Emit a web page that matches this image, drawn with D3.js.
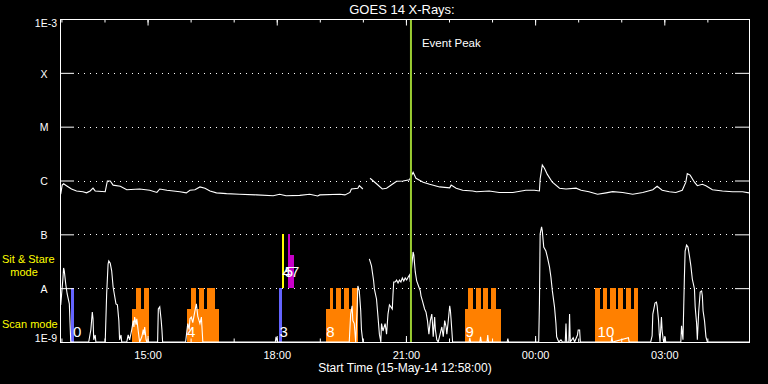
<!DOCTYPE html>
<html><head><meta charset="utf-8">
<script src="https://cdn.jsdelivr.net/npm/d3@7"></script>
<style>
html,body{margin:0;padding:0;background:#000;}
svg{display:block;}
text{font-family:"Liberation Sans",Arial,sans-serif;}
</style></head><body>
<svg id="chart" width="768" height="384"></svg>
<script>
// ---------- data ----------
const startTime = new Date(2014, 4, 15, 12, 58, 0);   // 15-May-14 12:58:00
const durationMin = 960;                                // 16 hours shown
const titleText = "GOES 14 X-Rays:";
const xLabelText = "Start Time (15-May-14 12:58:00)";

// y-axis levels and labels
const yLevels = [1e-9, 1e-8, 1e-7, 1e-6, 1e-5, 1e-4, 1e-3];
const yLabels = ["1E-9", "A", "B", "C", "M", "X", "1E-3"];
const gridLevels = [1e-8, 1e-7, 1e-6, 1e-5, 1e-4];

// long channel (1-8 A): [minutes after start, flux W/m^2]
const longChannel = [
 [1,5.6e-7],[3,8.2e-7],[5,8.7e-7],[9,8.0e-7],[16,6.95e-7],[23,6.4e-7],[32,6.2e-7],[37,5.9e-7],
 [42,6.4e-7],[46,7.2e-7],[49,6.4e-7],[63,6.2e-7],[66,9.8e-7],[70,9.8e-7],[74,8.2e-7],[84,7.8e-7],
 [93,6.75e-7],[111,6.95e-7],[125,6.6e-7],[135,6.0e-7],[139,6.95e-7],[149,6.6e-7],[167,6.2e-7],
 [176,5.9e-7],[181,6.6e-7],[188,6.75e-7],[195,7.6e-7],[202,7.2e-7],[209,6.4e-7],[218,5.9e-7],
 [232,5.7e-7],[250,5.55e-7],[274,5.4e-7],[297,5.2e-7],[306,5.55e-7],[315,5.2e-7],[334,5.3e-7],
 [348,5.55e-7],[359,5.15e-7],[362,5.4e-7],[390,5.55e-7],[397,5.4e-7],[404,6.0e-7],[406,6.95e-7],
 [415,7.2e-7],[417,8.0e-7],[422,6.95e-7],[427,null],
 [432,1.1e-6],[441,8.7e-7],[449,6.95e-7],[455,7.2e-7],[464,8.7e-7],[469,9.7e-7],[478,9.8e-7],
 [487,1.03e-6],[492,1.42e-6],[496,1.1e-6],[506,9.3e-7],[515,8.5e-7],[529,7.6e-7],[543,7.3e-7],
 [545,8.2e-7],[552,7.2e-7],[561,6.6e-7],[575,6.4e-7],[580,6.2e-7],[598,6.4e-7],[612,6.0e-7],
 [631,6.0e-7],[649,6.6e-7],[661,6.6e-7],[668,6.4e-7],[669,1.07e-6],[672,1.94e-6],[675,1.69e-6],
 [679,1.3e-6],[686,9.3e-7],[696,7.2e-7],[705,6.95e-7],[719,7.2e-7],[726,6.6e-7],[737,6.2e-7],
 [749,5.55e-7],[761,5.9e-7],[770,6.2e-7],[784,6.0e-7],[798,5.55e-7],[812,6.0e-7],[826,6.75e-7],
 [832,7.8e-7],[839,6.6e-7],[849,6.2e-7],[858,6.0e-7],[867,6.6e-7],[872,9.3e-7],[874,1.34e-6],
 [878,1.26e-6],[884,9.3e-7],[888,8.0e-7],[895,8.5e-7],[900,8.0e-7],[909,6.75e-7],[923,6.4e-7],
 [937,6.2e-7],[951,6.2e-7],[960,5.9e-7]
];

// short channel (0.5-4 A): [minutes after start, flux W/m^2]
const shortChannel = [
 [1,4.9e-9],[4,1.48e-8],[5,2.37e-8],[6,2.09e-8],[8,1.19e-8],[10,7.8e-9],[13,5.1e-9],[14,2.2e-9],[15,1.0e-9],
 [40,1.0e-9],[43,1.7e-9],[45,3.6e-9],[46,2.7e-9],[47,1.1e-9],[49,1.35e-9],[50,1.0e-9],
 [63,1.0e-9],[65,7.8e-9],[67,2.8e-8],[68,3.2e-8],[70,2.9e-8],[72,2.1e-8],[74,1.05e-8],[78,5.1e-9],
 [80,4.9e-9],[82,2.5e-9],[83,1.1e-9],[85,1.35e-9],[86,1.0e-9],
 [93,1.0e-9],[95,1.35e-9],[97,1.1e-9],[100,1.7e-9],[102,2.5e-9],[103,1.9e-9],[104,2.9e-9],[106,2.1e-9],
 [107,2.7e-9],[109,1.6e-9],[110,1.25e-9],[111,1.0e-9],[114,1.25e-9],[116,1.7e-9],[117,1.35e-9],
 [118,1.9e-9],[120,1.1e-9],[121,1.0e-9],
 [136,1.0e-9],[137,4.1e-9],[139,4.5e-9],[141,2.5e-9],[142,1.7e-9],[143,1.0e-9],
 [175,1.0e-9],[178,2.2e-9],[180,1.7e-9],[181,2.7e-9],[183,2.9e-9],[185,2.3e-9],[188,3.8e-9],
 [190,5.1e-9],[192,3.0e-9],[195,2.2e-9],[197,2.9e-9],[199,1.0e-9],
 [300,1.0e-9],[301,1.25e-9],[303,1.0e-9],
 [403,1.0e-9],[405,3.3e-9],[407,4.7e-9],[408,2.5e-9],[410,2.2e-9],[412,1.0e-9],[414,4.1e-9],
 [415,1.1e-8],[417,8.9e-9],[419,3.8e-9],[420,1.7e-9],[422,1.0e-9],[427,null],
 [431,3.5e-8],[434,2.6e-8],[437,1.36e-8],[438,9.7e-9],[441,6.3e-9],[443,3.0e-9],[445,1.4e-9],
 [447,1.0e-9],[448,2.2e-9],[450,1.6e-9],[453,2.2e-9],[455,1.4e-9],[457,3.3e-9],[459,4.9e-9],
 [461,4.5e-9],[463,4.1e-9],[464,7.8e-9],[465,1.3e-8],[467,1.3e-8],[469,1.42e-8],[471,1.25e-8],
 [473,1.42e-8],[475,1.3e-8],[477,1.55e-8],[479,1.36e-8],[481,1.55e-8],[483,1.42e-8],[485,1.6e-8],
 [487,1.76e-8],[488,1.3e-8],[490,2.5e-8],[492,4.7e-8],[493,4.1e-8],[495,2.0e-8],[497,1.36e-8],
 [500,1.05e-8],[502,8.9e-9],[503,7.2e-9],[505,5.8e-9],[508,4.1e-9],[510,3.6e-9],[512,2.5e-9],
 [514,1.4e-9],[516,2.5e-9],[518,3.3e-9],[519,2.2e-9],[520,1.25e-9],[522,2.9e-9],[523,1.7e-9],
 [525,1.1e-9],[527,1.0e-9],[532,1.9e-9],[534,1.25e-9],[536,2.5e-9],[538,1.9e-9],[539,1.4e-9],
 [541,2.5e-9],[543,4.7e-9],[544,3.8e-9],[545,2.5e-9],[546,1.6e-9],[547,1.0e-9],
 [570,1.0e-9],[571,1.2e-9],[572,1.0e-9],[585,1.0e-9],[586,1.25e-9],[587,1.0e-9],
 [595,1.0e-9],[596,1.35e-9],[597,1.0e-9],[623,1.0e-9],[624,1.15e-9],[625,1.0e-9],
 [667,1.0e-9],[668,5.1e-9],[669,1.01e-7],[671,1.37e-7],[672,1.16e-7],[674,5.8e-8],[677,4.9e-8],
 [679,3.8e-8],[682,2.48e-8],[684,1.6e-8],[686,8.9e-9],[689,4.5e-9],[691,2.2e-9],[692,1.25e-9],
 [695,1.0e-9],[698,1.1e-9],[700,1.0e-9],[704,1.0e-9],[705,2.2e-9],[706,1.0e-9],[709,1.0e-9],
 [710,3.3e-9],[711,1.0e-9],[715,1.2e-9],[717,1.0e-9],[721,1.35e-9],[722,1.67e-9],[724,1.67e-9],
 [725,1.0e-9],[768,1.0e-9],[769,1.25e-9],[770,1.0e-9],[792,1.2e-9],[793,1.0e-9],
 [823,1.0e-9],[825,1.3e-9],[826,3.3e-9],[828,4.5e-9],[829,5.3e-9],[831,5.5e-9],[832,4.7e-9],
 [834,2.5e-9],[835,1.4e-9],[836,1.0e-9],[838,2.9e-9],[839,1.6e-9],[841,1.0e-9],[843,1.25e-9],
 [844,1.0e-9],[865,1.0e-9],[866,2.0e-9],[868,1.1e-9],[870,1.6e-8],[871,4.9e-8],[873,6.3e-8],
 [875,5.8e-8],[877,3.97e-8],[879,2.6e-8],[881,1.48e-8],[884,9.7e-9],[885,4.5e-9],[887,2.2e-9],
 [888,1.1e-9],[890,3.8e-9],[892,8.5e-9],[894,8.9e-9],[895,7.2e-9],[896,3.8e-9],[898,2.5e-9],
 [900,1.25e-9],[902,1.0e-9],[960,1.0e-9]
];

// scan-mode observation blocks (minutes after start) and their raster "teeth"
const scanStarts = [100, 177, 370, 564, 746];
const scanEnds   = [124, 221, 415, 614, 806];
const scanTeeth = [
 [[106,113],[117,124]],
 [[182,189],[193,200],[205,216]],
 [[376,381],[385,392],[396,403],[407,415]],
 [[569,576],[580,586],[590,597],[601,608]],
 [[746,753],[757,762],[767,774],[778,785],[789,796],[800,806]]
];
const scanBaseFlux = 4.1e-9;
const scanTopFlux = 1e-8;

// sit & stare / other observation bars: [start, end, low flux, high flux, kind]
const obsBars = [
 [15, 19, 1e-9, 1e-8, "blue"],
 [305, 310, 1e-9, 1e-8, "blue"],
 [309, 312, 1e-8, 1e-7, "yellow"],
 [317, 326, 1e-8, 4.1e-8, "magenta"],
 [317, 321, 4.1e-8, 1e-7, "magenta"]
];

// observation numbers: [text, minutes, flux level of baseline]
const obsLabels = [
 ["0", 18, 1.22e-9], ["4", 177, 1.22e-9], ["3", 306, 1.22e-9], ["8", 371, 1.22e-9],
 ["9", 565, 1.22e-9], ["10", 749, 1.22e-9],
 ["4", 310, 1.64e-8], ["5", 313, 1.64e-8], ["7", 322, 1.64e-8]
];

const eventPeakMin = 489;   // 21:07

// ---------- drawing ----------
const colors = {blue: "#6464ff", yellow: "#ffff00", magenta: "#c800c8", orange: "#ff8000", peak: "#9acd32"};
const tm = m => new Date(startTime.getTime() + m * 60000);

const svg = d3.select("#chart").style("color", "#fff");
svg.append("rect").attr("width", 768).attr("height", 384).attr("fill", "#000");

const x = d3.scaleTime().domain([startTime, tm(durationMin)]).range([60, 749]);
const y = d3.scaleLog().domain([1e-9, 1e-3]).range([342, 19]);

svg.append("clipPath").attr("id", "clip").append("rect")
  .attr("x", 60).attr("y", 19).attr("width", 690).attr("height", 324);

// grid
svg.append("g").selectAll("line").data(gridLevels).join("line")
  .attr("x1", 78).attr("x2", 734)
  .attr("y1", d => Math.round(y(d)) + 0.5).attr("y2", d => Math.round(y(d)) + 0.5)
  .attr("stroke", "#fff").attr("stroke-dasharray", "1,5");

const plot = svg.append("g").attr("clip-path", "url(#clip)");

// scan blocks
scanStarts.forEach((s, i) => {
  plot.append("rect")
    .attr("x", x(tm(s))).attr("width", x(tm(scanEnds[i])) - x(tm(s)))
    .attr("y", y(scanBaseFlux)).attr("height", y(1e-9) - y(scanBaseFlux) + 1)
    .attr("fill", colors.orange).attr("shape-rendering", "crispEdges");
  scanTeeth[i].forEach(tt => {
    plot.append("rect")
      .attr("x", x(tm(tt[0]))).attr("width", x(tm(tt[1])) - x(tm(tt[0])))
      .attr("y", y(scanTopFlux)).attr("height", y(scanBaseFlux) - y(scanTopFlux))
      .attr("fill", colors.orange).attr("shape-rendering", "crispEdges");
  });
});

// observation bars
plot.selectAll("rect.obs").data(obsBars).join("rect").attr("class", "obs")
  .attr("x", d => x(tm(d[0]))).attr("width", d => x(tm(d[1])) - x(tm(d[0])))
  .attr("y", d => y(d[3])).attr("height", d => y(d[2]) - y(d[3]))
  .attr("fill", d => colors[d[4]]).attr("shape-rendering", "crispEdges");

// light curves
const line = d3.line().defined(d => d[1] != null)
  .x(d => x(tm(d[0]))).y(d => y(d[1]));
[longChannel, shortChannel].forEach(series => {
  plot.append("path").datum(series).attr("d", line)
    .attr("fill", "none").attr("stroke", "#fff").attr("stroke-width", 1.1);
});

// observation labels
svg.append("g").selectAll("text").data(obsLabels).join("text")
  .attr("x", d => x(tm(d[1]))).attr("y", d => y(d[2]))
  .attr("fill", "#fff").attr("font-size", 15).text(d => d[0]);

// event peak
const px = x(tm(eventPeakMin));
svg.append("line").attr("x1", px).attr("x2", px).attr("y1", 19).attr("y2", 343)
  .attr("stroke", colors.peak).attr("stroke-width", 2);
svg.append("text").attr("x", px + 11).attr("y", 46.5).attr("fill", "#fff")
  .attr("font-size", 11.5).text("Event Peak");

// axes
function clean(g) { g.select(".domain").remove(); g.selectAll("line").attr("stroke", "#fff"); }
const hourTicks = d3.timeHour.every(1), majorTicks = d3.timeHour.every(3);

svg.append("g").attr("transform", "translate(0,19)")
  .call(d3.axisTop(x).ticks(hourTicks).tickSizeInner(-3.5).tickSizeOuter(0).tickFormat(""))
  .call(clean).selectAll("text").remove();
svg.append("g").attr("transform", "translate(0,19)")
  .call(d3.axisTop(x).ticks(majorTicks).tickSizeInner(-6.5).tickSizeOuter(0).tickFormat(""))
  .call(clean).selectAll("text").remove();

svg.append("g").attr("transform", "translate(0,342)")
  .call(d3.axisBottom(x).ticks(hourTicks).tickSizeInner(-3.5).tickSizeOuter(0).tickFormat(""))
  .call(clean).selectAll("text").remove();
const bx = svg.append("g").attr("transform", "translate(0,342)")
  .call(d3.axisBottom(x).ticks(majorTicks).tickSizeInner(-6).tickSizeOuter(0)
    .tickPadding(9).tickFormat(d3.timeFormat("%H:%M")))
  .call(clean);
bx.selectAll("text").attr("fill", "#fff").attr("font-size", 11)
  .attr("font-family", "Liberation Sans, Arial, sans-serif");

const ly = svg.append("g").attr("transform", "translate(60,0)")
  .call(d3.axisLeft(y).tickValues(yLevels).tickSizeInner(-14).tickSizeOuter(0)
    .tickFormat((d, i) => yLabels[i]))
  .call(clean);
ly.selectAll("text").attr("fill", "#fff").attr("font-size", 10.5)
  .attr("font-family", "Liberation Sans, Arial, sans-serif")
  .each(function (d, i) {
    const t = d3.select(this);
    const lab = yLabels[i];
    if (lab.length > 1) {
      t.attr("text-anchor", "end").attr("x", -3);
      if (i === 0) t.attr("dy", "-0.05em").attr("y", 0.5);
      else t.attr("dy", "0.75em").attr("y", 0);
    } else {
      t.attr("text-anchor", "middle").attr("x", -16).attr("dy", "0.4em");
    }
  });
svg.append("g").attr("transform", "translate(749,0)")
  .call(d3.axisRight(y).tickValues(yLevels).tickSizeInner(-14).tickSizeOuter(0).tickFormat(""))
  .call(clean).selectAll("text").remove();

// frame
svg.append("rect").attr("x", 60.5).attr("y", 19.5).attr("width", 689).attr("height", 323)
  .attr("fill", "none").attr("stroke", "#fff");

// titles
svg.append("text").attr("x", 402).attr("y", 14).attr("text-anchor", "middle")
  .attr("fill", "#fff").attr("font-size", 13).text(titleText);
svg.append("text").attr("x", 405).attr("y", 371.5).attr("text-anchor", "middle")
  .attr("fill", "#fff").attr("font-size", 12).text(xLabelText);

// mode labels
svg.append("text").attr("x", 2).attr("y", 262.5).attr("fill", "#ffff00").attr("font-size", 11).text("Sit & Stare");
svg.append("text").attr("x", 24).attr("y", 276).attr("text-anchor", "middle").attr("fill", "#ffff00").attr("font-size", 11).text("mode");
svg.append("text").attr("x", 2).attr("y", 328).attr("fill", "#ffff00").attr("font-size", 11).text("Scan mode");
</script>
</body></html>
